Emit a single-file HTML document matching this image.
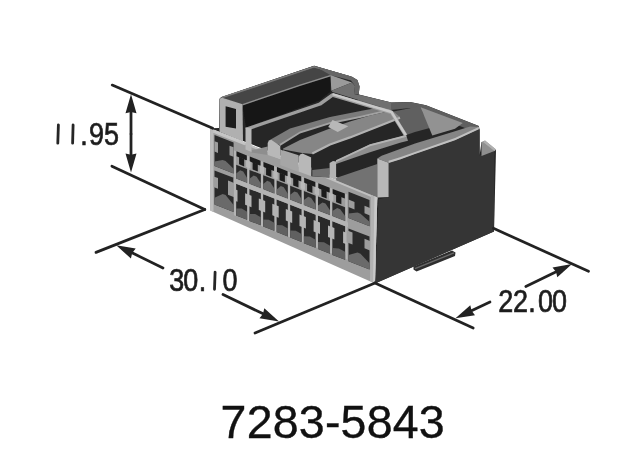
<!DOCTYPE html>
<html><head><meta charset="utf-8"><style>
html,body{margin:0;padding:0;background:#fff;width:640px;height:462px;overflow:hidden}
svg{display:block}
.t{font-family:"Liberation Sans",sans-serif}
svg{will-change:transform}
</style></head><body>
<svg width="640" height="462" viewBox="0 0 640 462">
<defs><filter id="bl" x="-5%" y="-5%" width="110%" height="110%"><feGaussianBlur stdDeviation="0.45"/></filter><filter id="bl2" x="-5%" y="-5%" width="110%" height="110%"><feGaussianBlur stdDeviation="0.35"/></filter></defs>
<rect width="640" height="462" fill="#fff"/>
<g filter="url(#bl)"><polygon points="210.3,128.2 219.0,128.0 219.3,99.0 221.0,97.2 314.1,65.8 352.0,76.7 357.4,79.9 359.6,86.4 358.7,94.5 391.2,102.6 410.0,102.1 426.0,105.3 478.8,126.0 479.6,129.5 479.6,155.5 481.5,142.0 496.0,150.0 494.0,231.5 375.0,283.4 377.0,193.0" fill="#262626" />
<polygon points="388.6,162.7 400.0,159.2 415.0,153.8 455.0,140.0 478.8,129.0 479.6,129.5 479.6,155.5 494.5,150.0 494.0,231.5 375.0,283.4 378.5,199.5 388.6,197.0" fill="#353535" />
<polygon points="413.5,266.5 452.0,250.5 455.5,252.5 455.0,256.0 416.5,271.5 413.5,269.5" fill="#2e2e2e" />
<line x1="415" y1="268.6" x2="454" y2="252.8" stroke="#6a6a6a" stroke-width="1.3"/>
<polygon points="481.5,142.0 485.0,140.5 496.0,149.5 494.5,151.0 481.5,156.0" fill="#8f8f8f" />
<polygon points="485.0,140.5 496.0,149.5 494.5,151.0 483.0,142.0" fill="#b0b0b0" />
<polygon points="358.7,94.5 391.2,102.6 410.0,102.1 426.0,105.3 478.8,126.0 478.8,129.0 470.0,130.0 424.0,112.0 410.0,108.0 391.0,110.0 358.0,101.0" fill="#5e5e5e" />
<polygon points="377.3,158.4 381.6,155.8 415.0,143.4 455.0,131.3 470.0,126.5 478.8,127.0 478.8,129.0 455.0,140.0 415.0,153.8 400.0,159.2 388.6,162.7" fill="#858585" />
<polygon points="388.6,160.8 400.0,157.3 415.0,151.9 455.0,138.1 478.8,127.1 478.8,129.3 455.0,140.3 415.0,154.1 400.0,159.5 388.6,163.0" fill="#c0c0c0" />
<polygon points="336.0,160.5 370.0,144.5 400.0,136.7 406.0,135.0 408.0,140.8 400.0,142.8 370.0,152.3 336.0,164.0" fill="#8e8e8e" />
<polygon points="336.0,160.3 370.0,144.3 400.0,136.5 406.0,134.8 406.5,136.8 400.0,138.5 370.0,146.3 336.0,162.3" fill="#b4b4b4" />
<polygon points="336.0,178.0 377.3,164.0 377.3,198.0 336.0,182.0" fill="#727272" />
<polygon points="391.0,111.9 419.7,106.3 430.6,127.8 415.0,132.1 405.6,135.3" fill="#606060" />
<polygon points="420.6,107.2 462.8,123.1 455.0,128.7 432.3,135.6" fill="#929292" />
<polygon points="268.0,141.0 290.0,128.5 330.0,117.0 363.0,110.6 388.0,106.0 391.0,110.0 360.0,117.0 330.3,123.0 300.0,132.5 279.6,144.9" fill="#7a7a7a" />
<polygon points="279.6,143.9 300.0,131.5 330.3,122.0 360.0,116.0 390.0,109.0 391.0,110.8 360.0,118.0 330.3,124.0 300.0,133.5 280.0,146.0" fill="#a2a2a2" />
<polygon points="281.8,149.2 300.0,140.0 328.6,129.0 350.0,121.5 370.0,115.5 392.0,110.5 400.0,117.0 389.3,122.5 350.0,138.0 330.0,145.0 312.3,154.0 302.0,153.0" fill="#868686" />
<polyline points="312.3,153.5 330,144.5 350,137.4 389.3,122 400,117.8" fill="none" stroke="#b2b2b2" stroke-width="2.2" stroke-linejoin="round"/>
<polygon points="328.2,127.1 332.5,120.0 348.3,126.3 337.7,131.9" fill="#b8b8b8" />
<polygon points="221.0,97.2 314.1,65.8 352.0,76.7 330.3,76.3 300.0,85.8 242.6,105.3" fill="#454545" />
<polyline points="222,97.6 314.1,66.8 350,77" fill="none" stroke="#7a7a7a" stroke-width="1.6"/>
<polygon points="242.6,104.0 300.0,84.5 330.3,75.0 330.3,77.5 300.0,87.0 242.6,106.5" fill="#8e8e8e" />
<polygon points="314.1,65.8 352.0,76.7 357.4,79.9 359.6,86.4 358.7,94.5 354.0,94.0 355.0,86.0 351.0,80.5 330.3,75.0" fill="#666666" />
<polygon points="330.3,75.0 352.0,82.6 331.4,90.8" fill="#9a9a9a" />
<polygon points="331.4,90.8 352.0,82.6 355.0,86.0 354.0,94.0 391.2,102.6 391.0,110.0 332.5,92.0" fill="#707070" />
<polygon points="242.6,105.5 300.0,86.0 330.3,76.6 330.3,91.8 319.5,100.5 246.0,127.5" fill="#141414" />
<polyline points="246,129.3 320,104 332.5,95 391.5,112.5 405.8,135.5" fill="none" stroke="#9e9e9e" stroke-width="3.4" stroke-linejoin="round"/>
<polyline points="332.5,94.2 391.5,112 405.8,135.2" fill="none" stroke="#c8c8c8" stroke-width="2.4" stroke-linejoin="round"/>
<polygon points="210.2,128.5 244.8,142.5 377.3,197.5 375.0,283.4 210.2,210.6" fill="#9d9d9d" />
<polygon points="244.8,142.5 377.3,197.5 377.3,199.5 244.8,144.6" fill="#c0c0c0" />
<polygon points="210.2,128.5 244.8,142.3 244.8,144.5 212.0,131.5" fill="#c8c8c8" />
<polygon points="210.2,128.5 213.5,130.0 213.5,212.0 210.2,210.6" fill="#bdbdbd" />
<polygon points="214.5,135.0 233.6,142.4 233.6,173.4 214.5,166.0" fill="#2a2a2a" />
<polygon points="214.5,166.0 214.5,161.4 222.6,159.9 225.6,161.1 233.6,168.8 233.6,173.4" fill="#6a6a6a" />
<polygon points="214.5,141.3 218.0,142.6 218.0,152.9 214.5,151.6" fill="#9d9d9d" />
<polygon points="229.5,145.7 233.6,147.3 233.6,156.8 229.5,155.2" fill="#9d9d9d" />
<polygon points="214.5,170.4 233.6,177.8 233.6,212.0 214.5,204.6" fill="#2a2a2a" />
<polygon points="214.5,204.6 214.5,197.7 222.6,193.9 225.6,195.1 233.6,205.1 233.6,212.0" fill="#6a6a6a" />
<polygon points="213.5,176.4 218.0,178.1 218.0,188.7 213.5,187.0" fill="#9d9d9d" />
<polygon points="228.0,180.5 234.8,183.2 234.8,197.5 228.0,194.8" fill="#9d9d9d" />
<polygon points="233.9,150.3 236.1,151.2 236.1,216.2 233.9,215.3" fill="#b4b4b4" />
<polygon points="247.2,155.5 249.4,156.4 249.4,221.4 247.2,220.5" fill="#b4b4b4" />
<polygon points="260.9,160.9 263.1,161.7 263.1,226.7 260.9,225.9" fill="#b4b4b4" />
<polygon points="274.4,166.1 276.6,167.0 276.6,232.0 274.4,231.1" fill="#b4b4b4" />
<polygon points="287.9,171.4 290.1,172.2 290.1,237.2 287.9,236.4" fill="#b4b4b4" />
<polygon points="301.6,176.7 303.8,177.6 303.8,242.6 301.6,241.7" fill="#b4b4b4" />
<polygon points="315.7,182.2 317.9,183.1 317.9,248.1 315.7,247.2" fill="#b4b4b4" />
<polygon points="330.1,187.8 332.3,188.7 332.3,253.7 330.1,252.8" fill="#b4b4b4" />
<polygon points="345.2,193.7 347.4,194.6 347.4,259.6 345.2,258.7" fill="#b4b4b4" />
<polygon points="236.5,151.3 246.8,155.4 246.8,160.4 236.5,156.3" fill="#1c1c1c" />
<polygon points="239.1,156.8 244.2,158.9 244.2,166.4 239.1,164.3" fill="#1c1c1c" />
<polygon points="236.2,164.7 247.1,169.0 247.1,182.8 236.2,178.5" fill="#2a2a2a" />
<polygon points="236.2,178.5 236.2,173.6 240.2,170.3 243.2,171.4 247.1,177.9 247.1,182.8" fill="#6a6a6a" />
<polygon points="236.2,183.7 247.1,188.0 247.1,219.7 236.2,215.4" fill="#2a2a2a" />
<polygon points="236.2,215.4 236.2,208.4 241.7,208.6 247.1,211.7 247.1,219.7" fill="#606060" />
<polygon points="249.8,156.5 260.5,160.7 260.5,165.7 249.8,161.5" fill="#1c1c1c" />
<polygon points="252.6,162.1 257.8,164.1 257.8,171.6 252.6,169.6" fill="#1c1c1c" />
<polygon points="249.5,169.9 260.8,174.3 260.8,188.1 249.5,183.7" fill="#2a2a2a" />
<polygon points="249.5,183.7 249.5,178.8 253.7,175.5 256.6,176.7 260.8,183.2 260.8,188.1" fill="#6a6a6a" />
<polygon points="249.5,188.9 260.8,193.3 260.8,225.3 249.5,220.9" fill="#2a2a2a" />
<polygon points="249.5,220.9 249.5,213.9 255.2,214.1 260.8,217.3 260.8,225.3" fill="#606060" />
<polygon points="263.5,161.9 274.0,166.0 274.0,171.0 263.5,166.9" fill="#1c1c1c" />
<polygon points="266.1,167.4 271.4,169.4 271.4,176.9 266.1,174.9" fill="#1c1c1c" />
<polygon points="263.2,175.2 274.3,179.6 274.3,193.4 263.2,189.0" fill="#2a2a2a" />
<polygon points="263.2,189.0 263.2,184.1 267.2,180.8 270.2,182.0 274.3,188.5 274.3,193.4" fill="#6a6a6a" />
<polygon points="263.2,194.2 274.3,198.6 274.3,230.8 263.2,226.5" fill="#2a2a2a" />
<polygon points="263.2,226.5 263.2,219.5 268.8,219.7 274.3,222.8 274.3,230.8" fill="#606060" />
<polygon points="277.0,167.1 287.5,171.2 287.5,176.2 277.0,172.1" fill="#1c1c1c" />
<polygon points="279.6,172.7 284.9,174.7 284.9,182.2 279.6,180.2" fill="#1c1c1c" />
<polygon points="276.7,180.5 287.8,184.8 287.8,198.6 276.7,194.3" fill="#2a2a2a" />
<polygon points="276.7,194.3 276.7,189.4 280.8,186.1 283.8,187.3 287.8,193.7 287.8,198.6" fill="#6a6a6a" />
<polygon points="276.7,199.5 287.8,203.8 287.8,236.4 276.7,232.0" fill="#2a2a2a" />
<polygon points="276.7,232.0 276.7,225.0 282.2,225.2 287.8,228.4 287.8,236.4" fill="#606060" />
<polygon points="290.5,172.4 301.2,176.6 301.2,181.6 290.5,177.4" fill="#1c1c1c" />
<polygon points="293.2,178.0 298.5,180.0 298.5,187.5 293.2,185.5" fill="#1c1c1c" />
<polygon points="290.2,185.8 301.5,190.2 301.5,204.0 290.2,199.6" fill="#2a2a2a" />
<polygon points="290.2,199.6 290.2,194.7 294.4,191.4 297.4,192.6 301.5,199.1 301.5,204.0" fill="#6a6a6a" />
<polygon points="290.2,204.8 301.5,209.2 301.5,242.0 290.2,237.6" fill="#2a2a2a" />
<polygon points="290.2,237.6 290.2,230.6 295.9,230.8 301.5,234.0 301.5,242.0" fill="#606060" />
<polygon points="304.2,177.7 315.3,182.1 315.3,187.1 304.2,182.7" fill="#1c1c1c" />
<polygon points="307.1,183.4 312.4,185.4 312.4,192.9 307.1,190.9" fill="#1c1c1c" />
<polygon points="303.9,191.1 315.6,195.7 315.6,209.5 303.9,204.9" fill="#2a2a2a" />
<polygon points="303.9,204.9 303.9,200.0 308.2,196.8 311.2,198.0 315.6,204.6 315.6,209.5" fill="#6a6a6a" />
<polygon points="303.9,210.1 315.6,214.7 315.6,247.8 303.9,243.2" fill="#2a2a2a" />
<polygon points="303.9,243.2 303.9,236.2 309.8,236.5 315.6,239.8 315.6,247.8" fill="#606060" />
<polygon points="318.3,183.2 329.7,187.7 329.7,192.7 318.3,188.2" fill="#1c1c1c" />
<polygon points="321.4,188.9 326.6,191.0 326.6,198.5 321.4,196.4" fill="#1c1c1c" />
<polygon points="318.0,196.6 330.0,201.3 330.0,215.1 318.0,210.4" fill="#2a2a2a" />
<polygon points="318.0,210.4 318.0,205.5 322.5,202.4 325.5,203.5 330.0,210.2 330.0,215.1" fill="#6a6a6a" />
<polygon points="318.0,215.6 330.0,220.3 330.0,253.7 318.0,249.0" fill="#2a2a2a" />
<polygon points="318.0,249.0 318.0,242.0 324.0,242.3 330.0,245.7 330.0,253.7" fill="#606060" />
<polygon points="332.7,188.9 344.8,193.6 344.8,198.6 332.7,193.9" fill="#1c1c1c" />
<polygon points="336.1,194.7 341.4,196.7 341.4,204.2 336.1,202.2" fill="#1c1c1c" />
<polygon points="332.4,202.2 345.1,207.2 345.1,221.0 332.4,216.0" fill="#2a2a2a" />
<polygon points="332.4,216.0 332.4,211.1 337.2,208.1 340.2,209.3 345.1,216.1 345.1,221.0" fill="#6a6a6a" />
<polygon points="332.4,221.2 345.1,226.2 345.1,259.8 332.4,254.9" fill="#2a2a2a" />
<polygon points="332.4,254.9 332.4,247.9 338.8,248.4 345.1,251.8 345.1,259.8" fill="#606060" />
<polygon points="245.1,193.2 251.5,195.7 251.5,207.2 245.1,204.7" fill="#b4b4b4" />
<polygon points="246.1,160.1 250.5,161.8 250.5,168.8 246.1,167.1" fill="#b8b8b8" />
<polygon points="258.8,198.5 265.2,201.0 265.2,212.5 258.8,210.0" fill="#b4b4b4" />
<polygon points="259.8,165.4 264.2,167.1 264.2,174.1 259.8,172.4" fill="#b8b8b8" />
<polygon points="272.3,203.8 278.7,206.3 278.7,217.8 272.3,215.3" fill="#b4b4b4" />
<polygon points="273.3,170.7 277.7,172.4 277.7,179.4 273.3,177.7" fill="#b8b8b8" />
<polygon points="285.8,209.1 292.2,211.6 292.2,223.1 285.8,220.6" fill="#b4b4b4" />
<polygon points="286.8,176.0 291.2,177.7 291.2,184.7 286.8,183.0" fill="#b8b8b8" />
<polygon points="299.5,214.4 305.9,216.9 305.9,228.4 299.5,225.9" fill="#b4b4b4" />
<polygon points="300.5,181.3 304.9,183.0 304.9,190.0 300.5,188.3" fill="#b8b8b8" />
<polygon points="313.6,219.9 320.0,222.4 320.0,233.9 313.6,231.4" fill="#b4b4b4" />
<polygon points="314.6,186.8 319.0,188.5 319.0,195.5 314.6,193.8" fill="#b8b8b8" />
<polygon points="328.0,225.5 334.4,228.0 334.4,239.5 328.0,237.0" fill="#b4b4b4" />
<polygon points="329.0,192.4 333.4,194.1 333.4,201.1 329.0,199.4" fill="#b8b8b8" />
<polygon points="234.0,188.9 237.5,190.2 237.5,201.7 234.0,200.4" fill="#b4b4b4" />
<polygon points="343.1,231.4 347.3,233.0 347.3,244.5 343.1,242.9" fill="#b4b4b4" />
<polygon points="233.6,178.0 348.0,222.6 348.0,227.3 233.6,182.7" fill="#b4b4b4" />
<polygon points="348.5,191.8 369.5,200.0 369.5,226.2 348.5,218.0" fill="#2a2a2a" />
<polygon points="348.5,218.0 348.5,213.5 357.5,212.5 360.5,213.7 369.5,221.7 369.5,226.2" fill="#6a6a6a" />
<polygon points="348.5,199.5 354.5,201.9 354.5,209.4 348.5,207.0" fill="#9d9d9d" />
<polygon points="364.5,205.8 370.0,207.9 370.0,215.4 364.5,213.3" fill="#9d9d9d" />
<polygon points="348.5,228.4 369.5,236.6 369.5,269.4 348.5,261.2" fill="#2a2a2a" />
<polygon points="348.5,261.2 348.5,255.1 357.5,252.5 360.5,253.7 369.5,263.3 369.5,269.4" fill="#6a6a6a" />
<polygon points="346.5,230.2 352.5,232.6 352.5,244.6 346.5,242.2" fill="#9d9d9d" />
<polygon points="364.5,238.8 370.0,240.9 370.0,250.4 364.5,248.3" fill="#9d9d9d" />
<polygon points="371.0,195.0 377.3,197.5 375.0,283.4 370.0,281.0" fill="#b2b2b2" />
<polygon points="374.5,196.5 377.3,197.5 375.0,283.4 373.0,282.6" fill="#c8c8c8" />
<polygon points="251.5,150.3 267.7,146.5 267.7,155.0 251.5,152.5" fill="#8e8e8e" />
<polygon points="280.3,149.0 283.0,150.2 298.6,155.2 298.6,172.0 280.3,165.0" fill="#a6a6a6" />
<polygon points="280.3,146.0 283.0,147.5 283.0,150.5 280.3,149.5" fill="#262626" />
<polygon points="267.7,143.0 268.8,140.8 271.2,139.7 280.3,146.0 280.3,159.0 267.7,155.0" fill="#b8b8b8" />
<polygon points="298.6,157.0 300.0,154.6 302.5,153.5 311.3,157.5 311.3,176.3 298.6,171.5" fill="#b8b8b8" />
<polygon points="311.3,157.5 329.6,150.0 329.6,177.5 311.3,176.3" fill="#262626" />
<polygon points="312.3,170.0 329.6,168.0 329.6,177.5 312.3,176.3" fill="#6e6e6e" />
<polygon points="245.5,127.5 251.5,128.5 251.5,152.0 245.5,149.5" fill="#b8b8b8" />
<polygon points="219.5,99.0 221.5,97.4 242.5,104.2 243.0,141.5 219.5,131.8" fill="#b0b0b0" />
<polygon points="213.0,131.0 244.8,143.5 244.8,145.2 213.0,132.8" fill="#c4c4c4" />
<polygon points="225.6,106.3 236.0,108.9 236.0,128.5 225.6,126.8" fill="#1a1a1a" />
<polygon points="377.3,158.4 388.6,162.7 388.6,197.0 377.3,197.5" fill="#b8b8b8" />
<polygon points="329.6,163.0 333.0,161.0 336.1,161.6 336.1,180.0 329.6,177.5" fill="#b4b4b4" /></g>
<g filter="url(#bl2)"><line x1="112.2" y1="85.1" x2="212.7" y2="128.3" stroke="#222222" stroke-width="2.75" stroke-linecap="round"/>
<line x1="111.9" y1="166.2" x2="204.8" y2="209.5" stroke="#222222" stroke-width="2.75" stroke-linecap="round"/>
<line x1="204.8" y1="209.5" x2="96.0" y2="252.4" stroke="#222222" stroke-width="2.75" stroke-linecap="round"/>
<line x1="131.0" y1="134.0" x2="131.0" y2="111.2" stroke="#222222" stroke-width="2.75" stroke-linecap="round"/>
<polygon points="131.0,94.2 136.5,113.2 131.0,112.0 125.5,113.2" fill="#222222" />
<line x1="131.0" y1="134.0" x2="131.0" y2="155.6" stroke="#222222" stroke-width="2.75" stroke-linecap="round"/>
<polygon points="131.0,172.6 125.5,153.6 131.0,154.8 136.5,153.6" fill="#222222" />
<line x1="163.0" y1="268.0" x2="131.5" y2="252.6" stroke="#222222" stroke-width="2.75" stroke-linecap="round"/>
<polygon points="116.2,245.2 135.7,248.6 132.2,253.0 130.9,258.5" fill="#222222" />
<line x1="223.0" y1="294.5" x2="263.7" y2="314.1" stroke="#222222" stroke-width="2.75" stroke-linecap="round"/>
<polygon points="279.0,321.5 259.5,318.2 263.0,313.8 264.3,308.3" fill="#222222" />
<line x1="375.0" y1="283.0" x2="255.0" y2="333.0" stroke="#222222" stroke-width="2.75" stroke-linecap="round"/>
<line x1="493.4" y1="228.3" x2="588.5" y2="271.3" stroke="#222222" stroke-width="2.75" stroke-linecap="round"/>
<line x1="375.0" y1="283.0" x2="473.2" y2="328.0" stroke="#222222" stroke-width="2.75" stroke-linecap="round"/>
<line x1="525.8" y1="286.5" x2="556.7" y2="271.4" stroke="#222222" stroke-width="2.75" stroke-linecap="round"/>
<polygon points="572.0,264.0 557.3,277.3 556.0,271.8 552.5,267.4" fill="#222222" />
<line x1="490.0" y1="302.0" x2="470.9" y2="311.0" stroke="#222222" stroke-width="2.75" stroke-linecap="round"/>
<polygon points="455.5,318.3 470.3,305.2 471.6,310.7 475.0,315.2" fill="#222222" />
<line x1="57.8" y1="143.2" x2="58.4" y2="124.9" stroke="#262626" stroke-width="2.8" stroke-linecap="round"/>
<line x1="72.6" y1="143.2" x2="73.1" y2="124.9" stroke="#262626" stroke-width="2.8" stroke-linecap="round"/>
<text transform="translate(80.37,145.30) scale(0.875,1)" font-size="30.8" class="t" fill="#1e1e1e" stroke="#1e1e1e" stroke-width="0.7">.</text>
<text transform="translate(89.05,145.30) scale(0.875,1)" font-size="30.8" class="t" fill="#1e1e1e" stroke="#1e1e1e" stroke-width="0.7">9</text>
<text transform="translate(104.02,145.30) scale(0.875,1)" font-size="30.8" class="t" fill="#1e1e1e" stroke="#1e1e1e" stroke-width="0.7">5</text>
<text transform="translate(169.22,291.10) scale(0.875,1)" font-size="30.8" class="t" fill="#1e1e1e" stroke="#1e1e1e" stroke-width="0.7">3</text>
<text transform="translate(183.22,291.10) scale(0.875,1)" font-size="30.8" class="t" fill="#1e1e1e" stroke="#1e1e1e" stroke-width="0.7">0</text>
<text transform="translate(198.87,291.10) scale(0.875,1)" font-size="30.8" class="t" fill="#1e1e1e" stroke="#1e1e1e" stroke-width="0.7">.</text>
<line x1="214.5" y1="289.3" x2="215.1" y2="272.1" stroke="#262626" stroke-width="2.8" stroke-linecap="round"/>
<text transform="translate(222.52,291.30) scale(0.875,1)" font-size="30.8" class="t" fill="#1e1e1e" stroke="#1e1e1e" stroke-width="0.7">0</text>
<text transform="translate(498.35,312.20) scale(0.875,1)" font-size="30.8" class="t" fill="#1e1e1e" stroke="#1e1e1e" stroke-width="0.7">2</text>
<text transform="translate(512.95,312.20) scale(0.875,1)" font-size="30.8" class="t" fill="#1e1e1e" stroke="#1e1e1e" stroke-width="0.7">2</text>
<text transform="translate(528.37,312.20) scale(0.875,1)" font-size="30.8" class="t" fill="#1e1e1e" stroke="#1e1e1e" stroke-width="0.7">.</text>
<text transform="translate(537.92,312.20) scale(0.875,1)" font-size="30.8" class="t" fill="#1e1e1e" stroke="#1e1e1e" stroke-width="0.7">0</text>
<text transform="translate(551.92,312.20) scale(0.875,1)" font-size="30.8" class="t" fill="#1e1e1e" stroke="#1e1e1e" stroke-width="0.7">0</text></g>
<text class="t" x="220.6" y="437.6" font-size="46.5" letter-spacing="0.22" fill="#111" stroke="#111" stroke-width="0.35">7283-5843</text>
</svg></body></html>
